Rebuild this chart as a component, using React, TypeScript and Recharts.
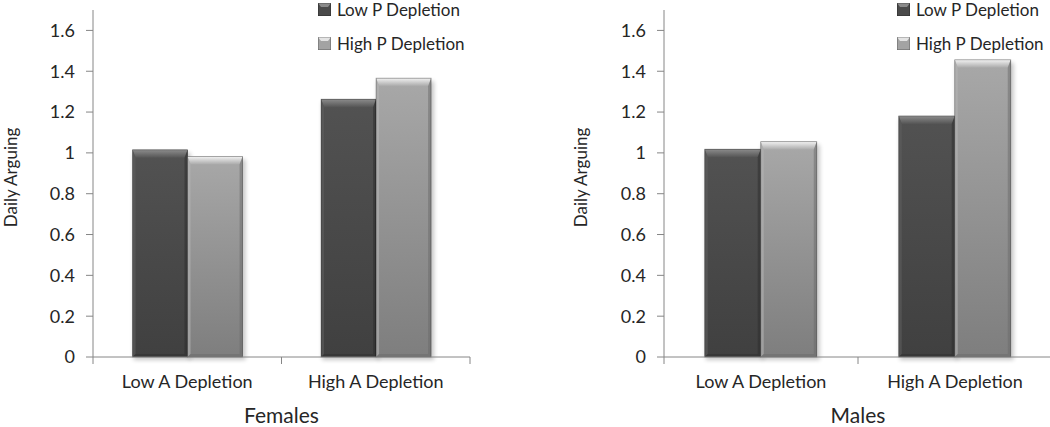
import { BarChart, Bar, XAxis, YAxis, Legend } from 'recharts';

const categories = ['Low A Depletion', 'High A Depletion'];
const seriesNames = ['Low P Depletion', 'High P Depletion'];
const femalesLowP = [1.015, 1.263];
const femalesHighP = [0.982, 1.366];
const malesLowP = [1.018, 1.181];
const malesHighP = [1.055, 1.456];
const yTicks = [0, 0.2, 0.4, 0.6, 0.8, 1, 1.2, 1.4, 1.6];

const FONT = 'Lato, "Open Sans", sans-serif';
const TEXT = '#262626';
const AXIS = '#868686';
const CHART_H = 427;
const TOP = 10;
const X_AXIS_H = 70;
const AXIS_Y = CHART_H - X_AXIS_H;

const tones: Record<string, { body: string; top: string; side: string; edge: string }> = {
  dark: { body: 'gDarkBody', top: 'gDarkTop', side: '#5e5e5e', edge: '#2e2e2e' },
  light: { body: 'gLightBody', top: 'gLightTop', side: '#b4b4b4', edge: '#6a6a6a' },
};

function BevelBar(props: any) {
  const { x, y, width: w, height: h, tone } = props;
  if (!h || h <= 0) return null;
  const t = tones[tone];
  const b = 8;
  const s = 3;
  return (
    <g>
      <rect x={x + 1} y={y + 3} width={w + 2} height={h} fill="#000" opacity={0.22} filter="url(#barShadow)" />
      <rect x={x} y={y} width={w} height={h} fill={`url(#${t.body})`} />
      <polygon points={`${x},${y} ${x + w},${y} ${x + w - s},${y + b} ${x + s},${y + b}`} fill={`url(#${t.top})`} />
      <polygon points={`${x},${y} ${x + s},${y + b} ${x + s},${y + h - s} ${x},${y + h}`} fill={t.side} opacity={0.6} />
      <polygon points={`${x + w},${y} ${x + w - s},${y + b} ${x + w - s},${y + h - s} ${x + w},${y + h}`} fill={t.edge} opacity={0.5} />
      <polygon points={`${x},${y + h} ${x + s},${y + h - s} ${x + w - s},${y + h - s} ${x + w},${y + h}`} fill={t.edge} opacity={0.5} />
      <rect x={x} y={y} width={w} height={h} fill="none" stroke="rgba(0,0,0,0.35)" strokeWidth={0.8} />
    </g>
  );
}

function LegendContent({ payload }: any) {
  const items = [...(payload || [])].sort(
    (a: any, b: any) => seriesNames.indexOf(a.value) - seriesNames.indexOf(b.value)
  );
  return (
    <div style={{ fontFamily: FONT, fontSize: 17, color: TEXT, whiteSpace: 'nowrap' }}>
      {items.map((item: any) => {
        const i = seriesNames.indexOf(item.value);
        return (
          <div key={item.value} style={{ display: 'flex', alignItems: 'center', height: 34, marginTop: i === 0 ? -8 : 0 }}>
            <svg width={13} height={13} style={{ marginRight: 6 }}>
              <rect x={0} y={0} width={13} height={13} fill={i === 0 ? '#4a4a4a' : '#a3a3a3'} />
              <polygon points="0,0 13,0 10,4 3,4" fill={i === 0 ? '#8a8a8a' : '#e4e4e4'} />
              <rect x={0} y={0} width={13} height={13} fill="none" stroke="rgba(0,0,0,0.4)" />
            </svg>
            <span>{item.value}</span>
          </div>
        );
      })}
    </div>
  );
}

function YLabel({ viewBox }: any) {
  const vb = viewBox || {};
  const cx = (vb.x ?? 0) + 17;
  const cy = (vb.y ?? 0) + (vb.height ?? 0) / 2 - 6;
  return (
    <text
      x={cx}
      y={cy}
      transform={`rotate(-90, ${cx}, ${cy})`}
      textAnchor="middle"
      fontSize={17}
      fill={TEXT}
      fontFamily={FONT}
    >
      Daily Arguing
    </text>
  );
}

function Panel({ title, lowP, highP, width, yAxisW, rightM, legendLeft }: any) {
  const data = categories.map((c, i) => ({ category: c, lowP: lowP[i], highP: highP[i] }));
  const band = (width - yAxisW - rightM) / categories.length;
  const XTick = (p: any) => {
    const { x, payload, index } = p;
    return (
      <g>
        <line x1={x - band / 2} x2={x - band / 2} y1={AXIS_Y} y2={AXIS_Y + 7} stroke={AXIS} />
        {index === categories.length - 1 && (
          <line x1={x + band / 2} x2={x + band / 2} y1={AXIS_Y} y2={AXIS_Y + 7} stroke={AXIS} />
        )}
        <text x={x} y={AXIS_Y + 31} textAnchor="middle" fontSize={18} fill={TEXT} fontFamily={FONT}>
          {payload.value}
        </text>
      </g>
    );
  };
  return (
    <BarChart
      width={width}
      height={CHART_H}
      data={data}
      margin={{ top: TOP, right: rightM, bottom: 0, left: 0 }}
      barCategoryGap="21%"
      barGap={0}
    >
      <XAxis
        dataKey="category"
        height={X_AXIS_H}
        stroke={AXIS}
        tickLine={false}
        tick={XTick}
        interval={0}
        label={{ value: title, position: 'insideBottom', offset: 4, fontSize: 21, fill: TEXT, fontFamily: FONT }}
      />
      <YAxis
        width={yAxisW}
        domain={[0, 1.7]}
        ticks={yTicks}
        stroke={AXIS}
        tickSize={7}
        tickMargin={11}
        tick={{ fontSize: 18, fill: TEXT, fontFamily: FONT }}
        label={{ value: 'Daily Arguing', content: YLabel }}
      />
      <Legend
        layout="vertical"
        verticalAlign="middle"
        align="center"
        wrapperStyle={{ top: 0, left: legendLeft, width: 'auto', height: 'auto' }}
        content={LegendContent}
      />
      <Bar dataKey="lowP" name={seriesNames[0]} fill="#4a4a4a" isAnimationActive={false} shape={(p: any) => <BevelBar {...p} tone="dark" />} />
      <Bar dataKey="highP" name={seriesNames[1]} fill="#a3a3a3" isAnimationActive={false} shape={(p: any) => <BevelBar {...p} tone="light" />} />
    </BarChart>
  );
}

export default function App() {
  return (
    <div style={{ position: 'fixed', left: 0, top: 0, width: 1050, height: 427, overflow: 'hidden', background: '#fff' }}>
      <svg width={0} height={0} style={{ position: 'absolute' }}>
        <defs>
          <linearGradient id="gDarkBody" x1="0" y1="0" x2="0" y2="1">
            <stop offset="0%" stopColor="#525252" />
            <stop offset="100%" stopColor="#404040" />
          </linearGradient>
          <linearGradient id="gLightBody" x1="0" y1="0" x2="0" y2="1">
            <stop offset="0%" stopColor="#a8a8a8" />
            <stop offset="100%" stopColor="#7e7e7e" />
          </linearGradient>
          <linearGradient id="gDarkTop" x1="0" y1="0" x2="0" y2="1">
            <stop offset="0%" stopColor="#8c8c8c" />
            <stop offset="100%" stopColor="#555555" />
          </linearGradient>
          <linearGradient id="gLightTop" x1="0" y1="0" x2="0" y2="1">
            <stop offset="0%" stopColor="#f2f2f2" />
            <stop offset="100%" stopColor="#a9a9a9" />
          </linearGradient>
          <filter id="barShadow" x="-20%" y="-20%" width="140%" height="140%">
            <feGaussianBlur stdDeviation="2" />
          </filter>
        </defs>
      </svg>
      <div style={{ position: 'absolute', left: 0, top: 0 }}>
        <Panel title="Females" lowP={femalesLowP} highP={femalesHighP} width={560} yAxisW={93} rightM={90} legendLeft={318} />
      </div>
      <div style={{ position: 'absolute', left: 570, top: 0 }}>
        <Panel title="Males" lowP={malesLowP} highP={malesHighP} width={482} yAxisW={94} rightM={0} legendLeft={327} />
      </div>
    </div>
  );
}
